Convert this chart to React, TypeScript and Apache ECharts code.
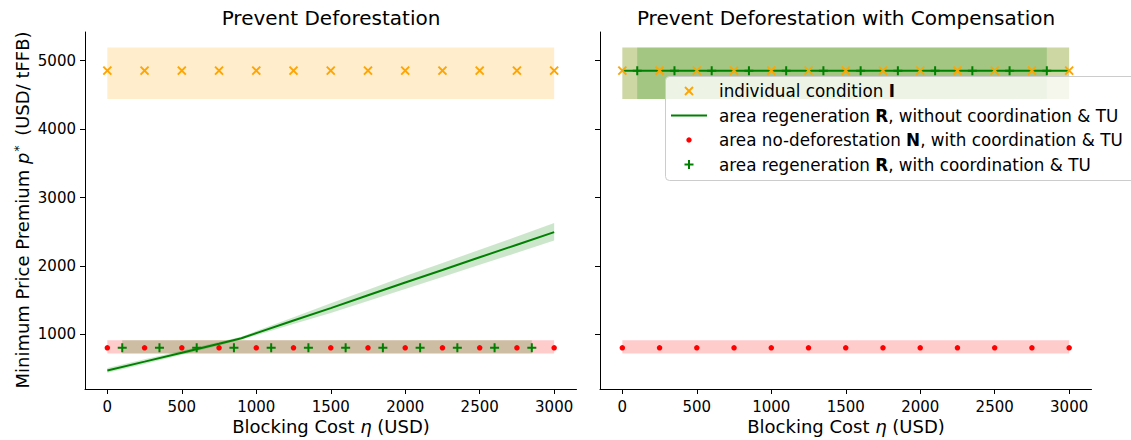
import React, { useEffect, useRef } from 'react';
import * as echarts from 'echarts';

// ---- data ----
const etaTicks = [0, 500, 1000, 1500, 2000, 2500, 3000];
const premiumTicks = [1000, 2000, 3000, 4000, 5000];

const etaGrid = [0, 250, 500, 750, 1000, 1250, 1500, 1750, 2000, 2250, 2500, 2750, 3000];
const etaCoord = [100, 350, 600, 850, 1100, 1350, 1600, 1850, 2100, 2350, 2600, 2850];

// individual condition I
const individualI = [4855, 4855, 4855, 4855, 4855, 4855, 4855, 4855, 4855, 4855, 4855, 4855, 4855];
const individualLo = [4440, 4440];
const individualHi = [5195, 5195];
const individualSpan = [0, 3000];

// area no-deforestation N, with coordination & TU
const noDeforN = [805, 805, 805, 805, 805, 805, 805, 805, 805, 805, 805, 805, 805];
const noDeforLo = [720, 720];
const noDeforHi = [915, 915];
const noDeforSpan = [0, 3000];

// area regeneration R, with coordination & TU
const regenCoordLeft = [805, 805, 805, 805, 805, 805, 805, 805, 805, 805, 805, 805];
const regenCoordRight = [4855, 4855, 4855, 4855, 4855, 4855, 4855, 4855, 4855, 4855, 4855, 4855];
const regenCoordSpan = [100, 2850];
const regenCoordLeftLo = [720, 720];
const regenCoordLeftHi = [915, 915];
const regenCoordRightLo = [4440, 4440];
const regenCoordRightHi = [5195, 5195];

// area regeneration R, without coordination & TU
const regenEta = [0, 250, 500, 750, 900, 1000, 1250, 1500, 1750, 2000, 2250, 2500, 2750, 3000];
const regenLeft = [474, 603, 733, 865, 945, 1020, 1203, 1385, 1572, 1759, 1943, 2128, 2312, 2496];
const regenLeftHi = [509, 636, 763, 890, 965, 1050, 1253, 1455, 1654, 1854, 2045, 2238, 2430, 2630];
const regenLeftLo = [439, 570, 703, 840, 925, 990, 1153, 1315, 1490, 1664, 1841, 2018, 2194, 2372];
const regenRight = [4855, 4855, 4855, 4855, 4855, 4855, 4855, 4855, 4855, 4855, 4855, 4855, 4855, 4855];
const regenRightLo = [4440, 4440, 4440, 4440, 4440, 4440, 4440, 4440, 4440, 4440, 4440, 4440, 4440, 4440];
const regenRightHi = [5195, 5195, 5195, 5195, 5195, 5195, 5195, 5195, 5195, 5195, 5195, 5195, 5195, 5195];

// ---- style ----
const FONT = 'DejaVu Sans';
const ORANGE = '#ffa500';
const RED = '#ff0000';
const GREEN = '#008000';
const CROSS = 'path://M0,0L10,10M10,0L0,10';
const PLUS = 'path://M5,0L5,10M0,5L10,5';

function band(xs: number[], lo: number[], hi: number[], fill: string, axis: number, z = 1) {
  return {
    type: 'custom',
    xAxisIndex: axis,
    yAxisIndex: axis,
    silent: true,
    z,
    data: xs.map((x, i) => [x, lo[i], hi[i]]),
    encode: { x: 0, y: [1, 2] },
    renderItem: (params: any, api: any) => {
      if (params.dataIndex !== 0) return null;
      const top: number[][] = [];
      const bot: number[][] = [];
      for (let i = 0; i < xs.length; i++) {
        top.push(api.coord([xs[i], hi[i]]));
        bot.push(api.coord([xs[i], lo[i]]));
      }
      return {
        type: 'polygon',
        shape: { points: top.concat(bot.reverse()) },
        style: { fill },
      };
    },
  };
}

function pairs(xs: number[], ys: number[]) {
  return xs.map((x, i) => [x, ys[i]]);
}

function scatter(xs: number[], ys: number[], kind: 'x' | 'dot' | 'plus', axis: number) {
  const base: any = {
    type: 'scatter',
    xAxisIndex: axis,
    yAxisIndex: axis,
    silent: true,
    z: 4,
    data: pairs(xs, ys),
  };
  if (kind === 'x') {
    base.symbol = CROSS;
    base.symbolSize = 8;
    base.itemStyle = { color: ORANGE, borderColor: ORANGE, borderWidth: 2, opacity: 1 };
  } else if (kind === 'plus') {
    base.symbol = PLUS;
    base.symbolSize = 9;
    base.itemStyle = { color: GREEN, borderColor: GREEN, borderWidth: 2, opacity: 1 };
  } else {
    base.symbol = 'circle';
    base.symbolSize = 5.5;
    base.itemStyle = { color: RED, opacity: 1 };
  }
  return base;
}

function line(xs: number[], ys: number[], axis: number) {
  return {
    type: 'line',
    xAxisIndex: axis,
    yAxisIndex: axis,
    silent: true,
    z: 3,
    showSymbol: false,
    data: pairs(xs, ys),
    lineStyle: { color: GREEN, width: 2 },
    itemStyle: { color: GREEN },
  };
}

const plain = (v: number) => String(v);

function xAxis(grid: number) {
  return {
    type: 'value',
    gridIndex: grid,
    min: -150,
    max: 3150,
    splitLine: { show: false },
    axisLine: { onZero: false, lineStyle: { color: '#000', width: 1 } },
    axisTick: { customValues: etaTicks, length: 5, lineStyle: { color: '#000', width: 1 } },
    axisLabel: { customValues: etaTicks, formatter: plain, fontSize: 15, fontFamily: FONT, color: '#000', margin: 10 },
  };
}

function yAxis(grid: number, showLabels: boolean) {
  return {
    type: 'value',
    gridIndex: grid,
    min: 203,
    max: 5420,
    splitLine: { show: false },
    axisLine: { onZero: false, lineStyle: { color: '#000', width: 1 } },
    axisTick: { customValues: premiumTicks, length: 5, lineStyle: { color: '#000', width: 1 } },
    axisLabel: { show: showLabels, customValues: premiumTicks, formatter: plain, fontSize: 15, fontFamily: FONT, color: '#000', margin: 9 },
  };
}

const txt = { fontFamily: FONT, fill: '#000' };

function legendRow(y: number, parts: string) {
  return {
    type: 'text',
    x: 719,
    y,
    z: 101,
    style: {
      text: parts,
      verticalAlign: 'middle',
      rich: {
        n: { ...txt, fontSize: 16.8 },
        b: { ...txt, fontSize: 16.8, fontWeight: 'bold' },
      },
    },
  };
}

export default function App() {
  const ref = useRef<HTMLDivElement>(null);
  useEffect(() => {
    if (!ref.current) return;
    const chart = echarts.init(ref.current, undefined, { renderer: 'svg' });
    const option: any = {
      animation: false,
      backgroundColor: '#fff',
      grid: [
        { left: 85, top: 32, width: 491.5, height: 357 },
        { left: 600, top: 32, width: 491.5, height: 357 },
      ],
      xAxis: [xAxis(0), xAxis(1)],
      yAxis: [yAxis(0, true), yAxis(1, false)],
      series: [
        // left panel
        band(individualSpan, individualLo, individualHi, 'rgba(255,165,0,0.2)', 0),
        band(noDeforSpan, noDeforLo, noDeforHi, 'rgba(255,0,0,0.2)', 0),
        band(regenCoordSpan, regenCoordLeftLo, regenCoordLeftHi, 'rgba(0,128,0,0.2)', 0),
        band(regenEta, regenLeftLo, regenLeftHi, 'rgba(0,128,0,0.2)', 0),
        line(regenEta, regenLeft, 0),
        scatter(etaGrid, individualI, 'x', 0),
        scatter(etaGrid, noDeforN, 'dot', 0),
        scatter(etaCoord, regenCoordLeft, 'plus', 0),
        // right panel
        band(individualSpan, individualLo, individualHi, 'rgba(255,165,0,0.2)', 1),
        band(regenEta, regenRightLo, regenRightHi, 'rgba(0,128,0,0.2)', 1),
        band(noDeforSpan, noDeforLo, noDeforHi, 'rgba(255,0,0,0.2)', 1),
        band(regenCoordSpan, regenCoordRightLo, regenCoordRightHi, 'rgba(0,128,0,0.2)', 1),
        scatter(etaGrid, individualI, 'x', 1),
        line(regenEta, regenRight, 1),
        scatter(etaGrid, noDeforN, 'dot', 1),
        scatter(etaCoord, regenCoordRight, 'plus', 1),
      ],
      graphic: [
        {
          type: 'text', x: 331, y: 18, z: 100,
          style: { ...txt, text: 'Prevent Deforestation', fontSize: 20, align: 'center', verticalAlign: 'middle' },
        },
        {
          type: 'text', x: 846, y: 18, z: 100,
          style: { ...txt, text: 'Prevent Deforestation with Compensation', fontSize: 20, align: 'center', verticalAlign: 'middle' },
        },
        {
          type: 'text', x: 331, y: 426, z: 100,
          style: {
            text: '{n|Blocking Cost }{i|η}{n| (USD)}',
            align: 'center', verticalAlign: 'middle',
            rich: { n: { ...txt, fontSize: 18 }, i: { ...txt, fontSize: 18, fontStyle: 'italic' } },
          },
        },
        {
          type: 'text', x: 846, y: 426, z: 100,
          style: {
            text: '{n|Blocking Cost }{i|η}{n| (USD)}',
            align: 'center', verticalAlign: 'middle',
            rich: { n: { ...txt, fontSize: 18 }, i: { ...txt, fontSize: 18, fontStyle: 'italic' } },
          },
        },
        {
          type: 'text', x: 22, y: 210, rotation: Math.PI / 2, z: 100,
          style: {
            text: '{n|Minimum Price Premium }{i|p}{s|*}{n| (USD/ tFFB)}',
            align: 'center', verticalAlign: 'middle',
            rich: {
              n: { ...txt, fontSize: 18 },
              i: { ...txt, fontSize: 18, fontStyle: 'italic' },
              s: { ...txt, fontSize: 12, verticalAlign: 'top', padding: [0, 4, 0, 1] },
            },
          },
        },
        // legend
        {
          type: 'rect', z: 100,
          shape: { x: 665.5, y: 76.5, width: 480, height: 104, r: 4 },
          style: { fill: 'rgba(255,255,255,0.8)', stroke: '#cccccc', lineWidth: 1 },
        },
        { type: 'line', z: 101, shape: { x1: 685, y1: 87, x2: 693, y2: 95 }, style: { stroke: ORANGE, lineWidth: 2 } },
        { type: 'line', z: 101, shape: { x1: 693, y1: 87, x2: 685, y2: 95 }, style: { stroke: ORANGE, lineWidth: 2 } },
        { type: 'line', z: 101, shape: { x1: 671, y1: 115.5, x2: 707, y2: 115.5 }, style: { stroke: GREEN, lineWidth: 2 } },
        { type: 'circle', z: 101, shape: { cx: 689, cy: 140, r: 2.7 }, style: { fill: RED } },
        { type: 'line', z: 101, shape: { x1: 684.5, y1: 164.5, x2: 693.5, y2: 164.5 }, style: { stroke: GREEN, lineWidth: 2 } },
        { type: 'line', z: 101, shape: { x1: 689, y1: 160, x2: 689, y2: 169 }, style: { stroke: GREEN, lineWidth: 2 } },
        legendRow(91, '{n|individual condition }{b|I}'),
        legendRow(115.5, '{n|area regeneration }{b|R}{n|, without coordination & TU}'),
        legendRow(140, '{n|area no-deforestation }{b|N}{n|, with coordination & TU}'),
        legendRow(164.5, '{n|area regeneration }{b|R}{n|, with coordination & TU}'),
      ],
    };
    chart.setOption(option);
    return () => chart.dispose();
  }, []);
  return (
    <div
      ref={ref}
      style={{ position: 'fixed', left: 0, top: 0, width: 1131, height: 440, background: '#fff' }}
    />
  );
}
